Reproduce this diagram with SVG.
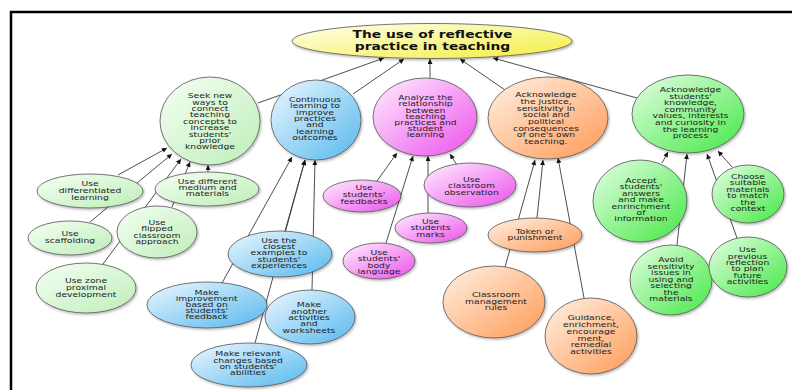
<svg xmlns="http://www.w3.org/2000/svg" width="792" height="390" viewBox="0 0 792 390">
<defs>
<style>
.n{stroke:#555;stroke-width:0.8;filter:url(#sh)}
.t{font-family:"DejaVu Sans",Verdana,sans-serif;font-size:7px;fill:#222;text-anchor:middle}
.tt{font-family:"DejaVu Sans",Verdana,sans-serif;font-size:10.5px;font-weight:bold;fill:#111;text-anchor:middle}
.c line{stroke:#3a3a3a;stroke-width:0.9;marker-end:url(#ah)}
</style>
<filter id="sh" x="-10%" y="-10%" width="125%" height="130%"><feDropShadow dx="1.2" dy="1.5" stdDeviation="0.9" flood-color="#000" flood-opacity="0.28"/></filter>
<marker id="ah" viewBox="0 0 10 10" refX="10" refY="5" markerWidth="6" markerHeight="5" markerUnits="userSpaceOnUse" orient="auto"><path d="M0,0 L10,5 L0,10 z" fill="#111"/></marker>
<linearGradient id="gy" x1="0" y1="0" x2="1" y2="1"><stop offset="0" stop-color="#fffff0"/><stop offset="1" stop-color="#f4ee3c"/></linearGradient>
<linearGradient id="gg" x1="0" y1="0" x2="1" y2="1"><stop offset="0" stop-color="#f6fff4"/><stop offset="1" stop-color="#bdeeb8"/></linearGradient>
<linearGradient id="gs" x1="0" y1="0" x2="1" y2="1"><stop offset="0" stop-color="#e6ffe6"/><stop offset="1" stop-color="#44e844"/></linearGradient>
<linearGradient id="gb" x1="0" y1="0" x2="1" y2="1"><stop offset="0" stop-color="#eef8ff"/><stop offset="1" stop-color="#55b8ee"/></linearGradient>
<linearGradient id="gm" x1="0" y1="0" x2="1" y2="1"><stop offset="0" stop-color="#fff0ff"/><stop offset="1" stop-color="#ec50ec"/></linearGradient>
<linearGradient id="go" x1="0" y1="0" x2="1" y2="1"><stop offset="0" stop-color="#fff2e6"/><stop offset="1" stop-color="#ff9a55"/></linearGradient>
</defs>
<rect x="0" y="0" width="792" height="390" fill="#fff"/>
<rect x="11" y="12" width="800" height="400" fill="none" stroke="#000" stroke-width="2.5"/>

<g id="connectors" class="c">
<line x1="258" y1="103" x2="384" y2="58"/>
<line x1="353" y1="94" x2="404" y2="59"/>
<line x1="430" y1="79" x2="430" y2="59"/>
<line x1="505" y1="90" x2="460" y2="59"/>
<line x1="637" y1="98" x2="493" y2="58"/>
<line x1="118" y1="175" x2="167" y2="148"/>
<line x1="90" y1="222" x2="172" y2="154"/>
<line x1="103" y1="264" x2="181" y2="159"/>
<line x1="172" y1="207" x2="190" y2="162"/>
<line x1="208" y1="172" x2="208" y2="165"/>
<line x1="222" y1="283" x2="292" y2="157"/>
<line x1="285" y1="231" x2="305" y2="160"/>
<line x1="255" y1="343" x2="305" y2="160"/>
<line x1="312" y1="290" x2="315" y2="160"/>
<line x1="377" y1="181" x2="397" y2="153"/>
<line x1="386" y1="243" x2="413" y2="156"/>
<line x1="428" y1="213" x2="428" y2="156"/>
<line x1="457" y1="165" x2="450" y2="154"/>
<line x1="537" y1="218" x2="543" y2="160"/>
<line x1="505" y1="267" x2="535" y2="160"/>
<line x1="584" y1="298" x2="558" y2="158"/>
<line x1="662" y1="163" x2="668" y2="152"/>
<line x1="677" y1="245" x2="687" y2="154"/>
<line x1="737" y1="238" x2="707" y2="154"/>
<line x1="732" y1="167" x2="718" y2="151"/>
</g>

<g id="title">
<ellipse class="n" cx="432" cy="41" rx="140" ry="17.5" fill="url(#gy)"/>
<text class="tt" transform="translate(432.5,0) scale(1.32,1)"><tspan x="0" y="38">The use of reflective</tspan><tspan x="0" y="50.5">practice in teaching</tspan></text>
</g>

<g id="n1">
<ellipse class="n" cx="210" cy="121" rx="50" ry="44" fill="url(#gg)"/>
<text class="t" transform="translate(210,0) scale(1.32,1)"><tspan x="0" y="98.2">Seek new</tspan><tspan x="0" y="104.6">ways to</tspan><tspan x="0" y="111">connect</tspan><tspan x="0" y="117.4">teaching</tspan><tspan x="0" y="123.8">concepts to</tspan><tspan x="0" y="130.2">increase</tspan><tspan x="0" y="136.6">students'</tspan><tspan x="0" y="143">prior</tspan><tspan x="0" y="149.4">knowledge</tspan></text>
</g>
<g id="n2">
<ellipse class="n" cx="316" cy="120" rx="45" ry="40" fill="url(#gb)"/>
<text class="t" transform="translate(315,0) scale(1.32,1)"><tspan x="0" y="102.2">Continuous</tspan><tspan x="0" y="108.5">learning to</tspan><tspan x="0" y="114.9">improve</tspan><tspan x="0" y="121.2">practices</tspan><tspan x="0" y="127.5">and</tspan><tspan x="0" y="133.9">learning</tspan><tspan x="0" y="140.2">outcomes</tspan></text>
</g>
<g id="n3">
<ellipse class="n" cx="425" cy="117" rx="52" ry="39" fill="url(#gm)"/>
<text class="t" transform="translate(425.5,0) scale(1.32,1)"><tspan x="0" y="100.2">Analyze the</tspan><tspan x="0" y="106.4">relationship</tspan><tspan x="0" y="112.6">between</tspan><tspan x="0" y="118.8">teaching</tspan><tspan x="0" y="125">practices and</tspan><tspan x="0" y="131.2">student</tspan><tspan x="0" y="137.4">learning</tspan></text>
</g>
<g id="n4">
<ellipse class="n" cx="548" cy="118" rx="60" ry="41" fill="url(#go)"/>
<text class="t" transform="translate(546,0) scale(1.32,1)"><tspan x="0" y="97.2">Acknowledge</tspan><tspan x="0" y="103.9">the justice,</tspan><tspan x="0" y="110.6">sensitivity in</tspan><tspan x="0" y="117.3">social and</tspan><tspan x="0" y="124">political</tspan><tspan x="0" y="130.7">consequences</tspan><tspan x="0" y="137.4">of one's own</tspan><tspan x="0" y="144.1">teaching.</tspan></text>
</g>
<g id="n5">
<ellipse class="n" cx="688" cy="114" rx="56" ry="39" fill="url(#gs)"/>
<text class="t" transform="translate(690.5,0) scale(1.32,1)"><tspan x="0" y="92.2">Acknowledge</tspan><tspan x="0" y="98.8">students'</tspan><tspan x="0" y="105.3">knowledge,</tspan><tspan x="0" y="111.9">community</tspan><tspan x="0" y="118.5">values, interests</tspan><tspan x="0" y="125">and curiosity in</tspan><tspan x="0" y="131.6">the learning</tspan><tspan x="0" y="138.2">process</tspan></text>
</g>

<g id="c_diff">
<ellipse class="n" cx="90" cy="191" rx="53" ry="17" fill="url(#gg)"/>
<text class="t" transform="translate(90,0) scale(1.32,1)"><tspan x="0" y="186.2">Use</tspan><tspan x="0" y="193.2">differentiated</tspan><tspan x="0" y="200.2">learning</tspan></text>
</g>
<g id="c_medium">
<ellipse class="n" cx="207" cy="189" rx="52" ry="17" fill="url(#gg)"/>
<text class="t" transform="translate(207.5,0) scale(1.32,1)"><tspan x="0" y="183.9">Use different</tspan><tspan x="0" y="190.2">medium and</tspan><tspan x="0" y="196.5">materials</tspan></text>
</g>
<g id="c_scaff">
<ellipse class="n" cx="70" cy="238" rx="42" ry="17" fill="url(#gg)"/>
<text class="t" transform="translate(70,0) scale(1.32,1)"><tspan x="0" y="236.2">Use</tspan><tspan x="0" y="243.2">scaffolding</tspan></text>
</g>
<g id="c_flip">
<ellipse class="n" cx="157" cy="232" rx="40" ry="26" fill="url(#gg)"/>
<text class="t" transform="translate(157,0) scale(1.32,1)"><tspan x="0" y="224.9">Use</tspan><tspan x="0" y="231.4">flipped</tspan><tspan x="0" y="237.9">classroom</tspan><tspan x="0" y="244.4">approach</tspan></text>
</g>
<g id="c_zone">
<ellipse class="n" cx="86" cy="288" rx="50" ry="25" fill="url(#gg)"/>
<text class="t" transform="translate(86,0) scale(1.32,1)"><tspan x="0" y="283.2">Use zone</tspan><tspan x="0" y="290.2">proximal</tspan><tspan x="0" y="297.2">development</tspan></text>
</g>

<g id="c_closest">
<ellipse class="n" cx="280" cy="254" rx="52" ry="23" fill="url(#gb)"/>
<text class="t" transform="translate(279,0) scale(1.32,1)"><tspan x="0" y="242.9">Use the</tspan><tspan x="0" y="249.2">closest</tspan><tspan x="0" y="255.5">examples to</tspan><tspan x="0" y="261.8">students'</tspan><tspan x="0" y="268.1">experiences</tspan></text>
</g>
<g id="c_improve">
<ellipse class="n" cx="207" cy="305" rx="60" ry="23" fill="url(#gb)"/>
<text class="t" transform="translate(206.7,0) scale(1.32,1)"><tspan x="0" y="294.9">Make</tspan><tspan x="0" y="301.1">improvement</tspan><tspan x="0" y="307.2">based on</tspan><tspan x="0" y="313.4">students'</tspan><tspan x="0" y="319.5">feedback</tspan></text>
</g>
<g id="c_another">
<ellipse class="n" cx="310" cy="317" rx="45" ry="27" fill="url(#gb)"/>
<text class="t" transform="translate(309,0) scale(1.32,1)"><tspan x="0" y="307.2">Make</tspan><tspan x="0" y="313.6">another</tspan><tspan x="0" y="320">activities</tspan><tspan x="0" y="326.4">and</tspan><tspan x="0" y="332.8">worksheets</tspan></text>
</g>
<g id="c_relevant">
<ellipse class="n" cx="249" cy="365" rx="58" ry="22" fill="url(#gb)"/>
<text class="t" transform="translate(248,0) scale(1.32,1)"><tspan x="0" y="356.2">Make relevant</tspan><tspan x="0" y="362.6">changes based</tspan><tspan x="0" y="369">on students'</tspan><tspan x="0" y="375.4">abilities</tspan></text>
</g>

<g id="c_feedbacks">
<ellipse class="n" cx="362" cy="196" rx="39" ry="16" fill="url(#gm)"/>
<text class="t" transform="translate(364,0) scale(1.32,1)"><tspan x="0" y="190.5">Use</tspan><tspan x="0" y="197.2">students'</tspan><tspan x="0" y="203.9">feedbacks</tspan></text>
</g>
<g id="c_observ">
<ellipse class="n" cx="470" cy="185" rx="46" ry="22" fill="url(#gm)"/>
<text class="t" transform="translate(471.5,0) scale(1.32,1)"><tspan x="0" y="182.2">Use</tspan><tspan x="0" y="188.4">classroom</tspan><tspan x="0" y="194.6">observation</tspan></text>
</g>
<g id="c_marks">
<ellipse class="n" cx="431" cy="228" rx="36" ry="15" fill="url(#gm)"/>
<text class="t" transform="translate(430.5,0) scale(1.32,1)"><tspan x="0" y="223.9">Use</tspan><tspan x="0" y="230.5">students</tspan><tspan x="0" y="237.2">marks</tspan></text>
</g>
<g id="c_body">
<ellipse class="n" cx="379" cy="261" rx="36" ry="18" fill="url(#gm)"/>
<text class="t" transform="translate(379,0) scale(1.32,1)"><tspan x="0" y="254.9">Use</tspan><tspan x="0" y="261.5">students'</tspan><tspan x="0" y="268.2">body</tspan><tspan x="0" y="274.2">language</tspan></text>
</g>

<g id="c_token">
<ellipse class="n" cx="535" cy="235" rx="47" ry="17" fill="url(#go)"/>
<text class="t" transform="translate(535,0) scale(1.32,1)"><tspan x="0" y="233.9">Token or</tspan><tspan x="0" y="239.9">punishment</tspan></text>
</g>
<g id="c_rules">
<ellipse class="n" cx="494" cy="302" rx="51" ry="36" fill="url(#go)"/>
<text class="t" transform="translate(496,0) scale(1.32,1)"><tspan x="0" y="297.2">Classroom</tspan><tspan x="0" y="303.6">management</tspan><tspan x="0" y="310">rules</tspan></text>
</g>
<g id="c_guidance">
<ellipse class="n" cx="591" cy="336" rx="46" ry="38" fill="url(#go)"/>
<text class="t" transform="translate(591,0) scale(1.32,1)"><tspan x="0" y="320.5">Guidance,</tspan><tspan x="0" y="327.2">enrichment,</tspan><tspan x="0" y="333.9">encourage</tspan><tspan x="0" y="340.6">ment,</tspan><tspan x="0" y="347.3">remedial</tspan><tspan x="0" y="354">activities</tspan></text>
</g>

<g id="c_accept">
<ellipse class="n" cx="640" cy="201" rx="47" ry="41" fill="url(#gs)"/>
<text class="t" transform="translate(641,0) scale(1.32,1)"><tspan x="0" y="182.9">Accept</tspan><tspan x="0" y="189.3">students'</tspan><tspan x="0" y="195.8">answers</tspan><tspan x="0" y="202.2">and make</tspan><tspan x="0" y="208.6">enrinchment</tspan><tspan x="0" y="215.1">of</tspan><tspan x="0" y="221.5">information</tspan></text>
</g>
<g id="c_choose">
<ellipse class="n" cx="748" cy="194" rx="36" ry="29" fill="url(#gs)"/>
<text class="t" transform="translate(748,0) scale(1.32,1)"><tspan x="0" y="178.9">Choose</tspan><tspan x="0" y="185.4">suitable</tspan><tspan x="0" y="191.9">materials</tspan><tspan x="0" y="198.4">to match</tspan><tspan x="0" y="204.9">the</tspan><tspan x="0" y="211.4">context</tspan></text>
</g>
<g id="c_avoid">
<ellipse class="n" cx="671" cy="280" rx="41" ry="35" fill="url(#gs)"/>
<text class="t" transform="translate(671,0) scale(1.32,1)"><tspan x="0" y="262.2">Avoid</tspan><tspan x="0" y="268.7">sensitivity</tspan><tspan x="0" y="275.2">issues in</tspan><tspan x="0" y="281.7">using and</tspan><tspan x="0" y="288.2">selecting</tspan><tspan x="0" y="294.7">the</tspan><tspan x="0" y="301.2">materials</tspan></text>
</g>
<g id="c_previous">
<ellipse class="n" cx="748" cy="267" rx="39" ry="30" fill="url(#gs)"/>
<text class="t" transform="translate(747.5,0) scale(1.32,1)"><tspan x="0" y="252.2">Use</tspan><tspan x="0" y="258.6">previous</tspan><tspan x="0" y="265">reflection</tspan><tspan x="0" y="271.4">to plan</tspan><tspan x="0" y="277.8">future</tspan><tspan x="0" y="284.2">activities</tspan></text>
</g>
</svg>
